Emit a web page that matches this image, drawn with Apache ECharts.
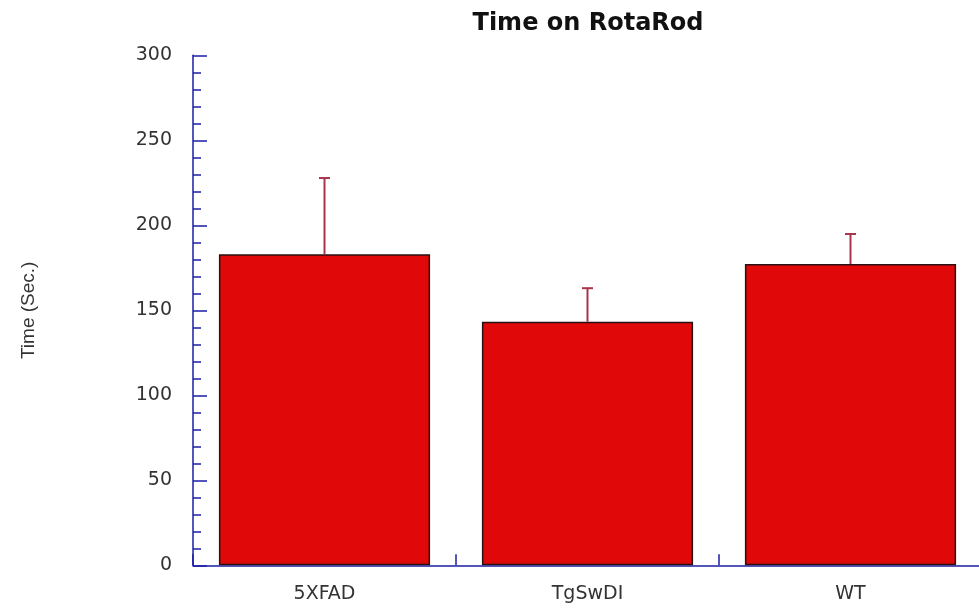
<!DOCTYPE html>
<html>
<head>
<meta charset="utf-8">
<script src="https://cdn.jsdelivr.net/npm/echarts@6/dist/echarts.min.js"></script>
<style>html,body{margin:0;padding:0;background:#fff;overflow:hidden;width:979px;height:612px;}#c{width:983px;height:612px;}</style>
</head>
<body>
<div id="c"></div>
<script>
var categories = ['5XFAD', 'TgSwDI', 'WT'];
var means = [183, 143.3, 177.2];
var errors = [44.8, 19.7, 17.7];
var yTicks = [0, 50, 100, 150, 200, 250, 300];

var chart = echarts.init(document.getElementById('c'));
var axisBlue = '#1c1ca8';
var errData = categories.map(function (c, i) { return [i, means[i], means[i] + errors[i]]; });

chart.setOption({
  animation: false,
  backgroundColor: '#ffffff',
  title: {
    text: 'Time on RotaRod',
    left: 583,
    top: 7,
    textAlign: 'center',
    textStyle: { fontFamily: 'DejaVu Sans', fontWeight: 'bold', fontSize: 24, color: '#111' }
  },
  grid: { left: 193, right: 1, top: 55.3, height: 510, containLabel: false },
  xAxis: {
    type: 'category',
    data: categories,
    axisLine: { show: true, lineStyle: { color: axisBlue, width: 1.5 } },
    axisTick: { show: true, interval: 0, alignWithLabel: false, inside: true, length: 11, lineStyle: { color: axisBlue, width: 1.5 } },
    axisLabel: { margin: 19, fontFamily: 'DejaVu Sans', fontSize: 19, color: '#333' },
    splitLine: { show: false }
  },
  yAxis: {
    type: 'value',
    min: yTicks[0],
    max: yTicks[yTicks.length - 1],
    interval: 50,
    name: 'Time (Sec.)',
    nameLocation: 'middle',
    nameGap: 155,
    nameTextStyle: { fontFamily: 'Liberation Sans', fontSize: 19, color: '#333' },
    axisLine: { show: true, lineStyle: { color: axisBlue, width: 1.5 } },
    axisTick: { show: true, inside: true, length: 14, lineStyle: { color: axisBlue, width: 1.5 } },
    minorTick: { show: true, splitNumber: 5, length: 8, lineStyle: { color: axisBlue, width: 1.5 } },
    axisLabel: { margin: 21, fontFamily: 'DejaVu Sans', fontSize: 19, color: '#333' },
    splitLine: { show: false }
  },
  series: [
    {
      type: 'bar',
      data: means,
      barWidth: '80.3%',
      itemStyle: { color: '#e00808', borderColor: '#2a1010', borderWidth: 1.5 },
      z: 2
    },
    {
      type: 'custom',
      data: errData,
      z: 3,
      renderItem: function (params, api) {
        var x = api.value(0);
        var p0 = api.coord([x, api.value(1)]);
        var p1 = api.coord([x, api.value(2)]);
        var hw = 5.5;
        var style = { stroke: '#a8344a', lineWidth: 2 };
        return {
          type: 'group',
          children: [
            { type: 'line', shape: { x1: p0[0], y1: p0[1], x2: p1[0], y2: p1[1] }, style: style },
            { type: 'line', shape: { x1: p1[0] - hw, y1: p1[1], x2: p1[0] + hw, y2: p1[1] }, style: style }
          ]
        };
      }
    }
  ]
});
</script>
</body>
</html>
